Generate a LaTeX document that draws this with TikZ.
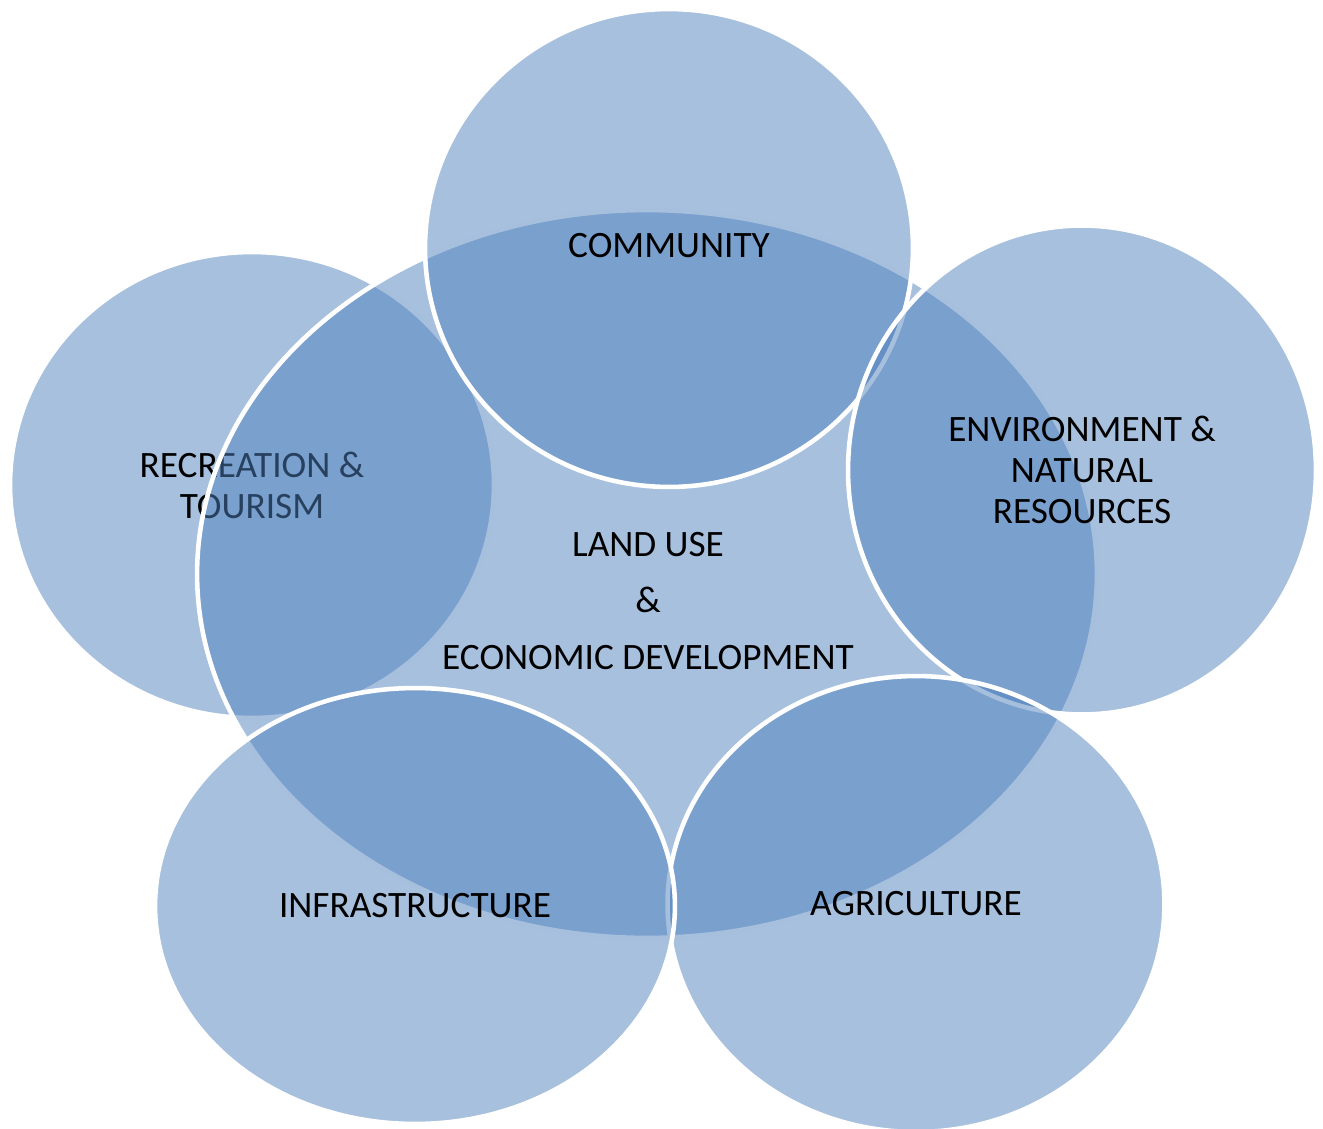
\documentclass[tikz,border=0pt]{standalone}
\usepackage{fontspec}
\setmainfont{Carlito}
\usetikzlibrary{shapes.geometric}

\definecolor{ringblue}{RGB}{79,129,189}

\tikzset{
  ring/.style={ellipse, fill=ringblue, fill opacity=0.5, text opacity=1,
    draw=white, line width=2.6pt, inner sep=0pt, outer sep=0pt,
    font=\fontsize{21.2}{23.3}\selectfont, align=center},
  bigtext/.style={font=\fontsize{21.2}{23.3}\selectfont, align=center}
}

\begin{document}
\begin{tikzpicture}[x=0.02cm, y=-0.02cm]
        \useasboundingbox (0,0) rectangle (1323,1129);

        \node[ring, minimum width=9.68cm, minimum height=9.32cm] at (252,485) (recreation) {RECREATION \&\\TOURISM};

        \node[ring, minimum width=18cm, minimum height=14.56cm] at (647,574) (landuse) {};

        \node[ring, minimum width=9.76cm, minimum height=9.56cm] at (669,248) (community) {\raisebox{3pt}{COMMUNITY}};
        \node[ring, minimum width=9.36cm, minimum height=9.78cm] at (1082,470) (environment) {ENVIRONMENT \&\\NATURAL\\RESOURCES};
        \node[ring, minimum width=9.94cm, minimum height=9.12cm] at (916,904) (agriculture) {AGRICULTURE};
        \node[ring, minimum width=10.4cm, minimum height=8.72cm] at (415,906) (infrastructure) {INFRASTRUCTURE};

        \node[bigtext] at (648,601) (landusetext) {LAND USE\\[9pt]\&\\[9pt]ECONOMIC DEVELOPMENT};
    \end{tikzpicture}
\end{document}
